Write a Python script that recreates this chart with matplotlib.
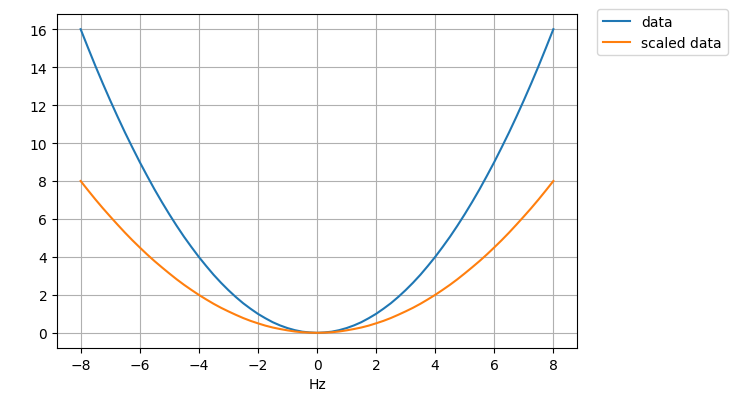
import numpy as np
from matplotlib import pyplot as plt

# values at quarter-Hz steps
hz = [-8.0, -7.75, -7.5, -7.25, -7.0, -6.75, -6.5, -6.25, -6.0, -5.75, -5.5,
      -5.25, -5.0, -4.75, -4.5, -4.25, -4.0, -3.75, -3.5, -3.25, -3.0, -2.75,
      -2.5, -2.25, -2.0, -1.75, -1.5, -1.25, -1.0, -0.75, -0.5, -0.25, 0.0,
      0.25, 0.5, 0.75, 1.0, 1.25, 1.5, 1.75, 2.0, 2.25, 2.5, 2.75, 3.0, 3.25,
      3.5, 3.75, 4.0, 4.25, 4.5, 4.75, 5.0, 5.25, 5.5, 5.75, 6.0, 6.25, 6.5,
      6.75, 7.0, 7.25, 7.5, 7.75, 8.0]
data = [16.0, 15.02, 14.06, 13.14, 12.25, 11.39, 10.56, 9.77, 9.0, 8.27, 7.56,
        6.89, 6.25, 5.64, 5.06, 4.52, 4.0, 3.52, 3.06, 2.64, 2.25, 1.89, 1.56,
        1.27, 1.0, 0.77, 0.56, 0.39, 0.25, 0.14, 0.06, 0.02, 0.0, 0.02, 0.06,
        0.14, 0.25, 0.39, 0.56, 0.77, 1.0, 1.27, 1.56, 1.89, 2.25, 2.64, 3.06,
        3.52, 4.0, 4.52, 5.06, 5.64, 6.25, 6.89, 7.56, 8.27, 9.0, 9.77, 10.56,
        11.39, 12.25, 13.14, 14.06, 15.02, 16.0]
scaled = [8.0, 7.51, 7.03, 6.57, 6.13, 5.70, 5.28, 4.88, 4.5, 4.13, 3.78,
          3.45, 3.13, 2.82, 2.53, 2.26, 2.0, 1.76, 1.53, 1.32, 1.13, 0.95, 0.78,
          0.63, 0.5, 0.38, 0.28, 0.20, 0.13, 0.07, 0.03, 0.01, 0.0, 0.01, 0.03,
          0.07, 0.13, 0.20, 0.28, 0.38, 0.5, 0.63, 0.78, 0.95, 1.13, 1.32, 1.53,
          1.76, 2.0, 2.26, 2.53, 2.82, 3.13, 3.45, 3.78, 4.13, 4.5, 4.88, 5.28,
          5.70, 6.13, 6.57, 7.03, 7.51, 8.0]

fig = plt.figure(figsize=(7.37, 4.02), dpi=100)
ax = fig.add_axes([57/737, 1 - 349/402, 520/737, 334/402])
ax.plot(hz, data, label="data")
ax.plot(hz, scaled, label="scaled data")
ax.set_xlabel("Hz")
ax.grid(True)
ax.legend(loc="upper left", bbox_to_anchor=(1 + 20/520, 1 + 5/334), borderaxespad=0)
fig.savefig("out.png", dpi=100)
